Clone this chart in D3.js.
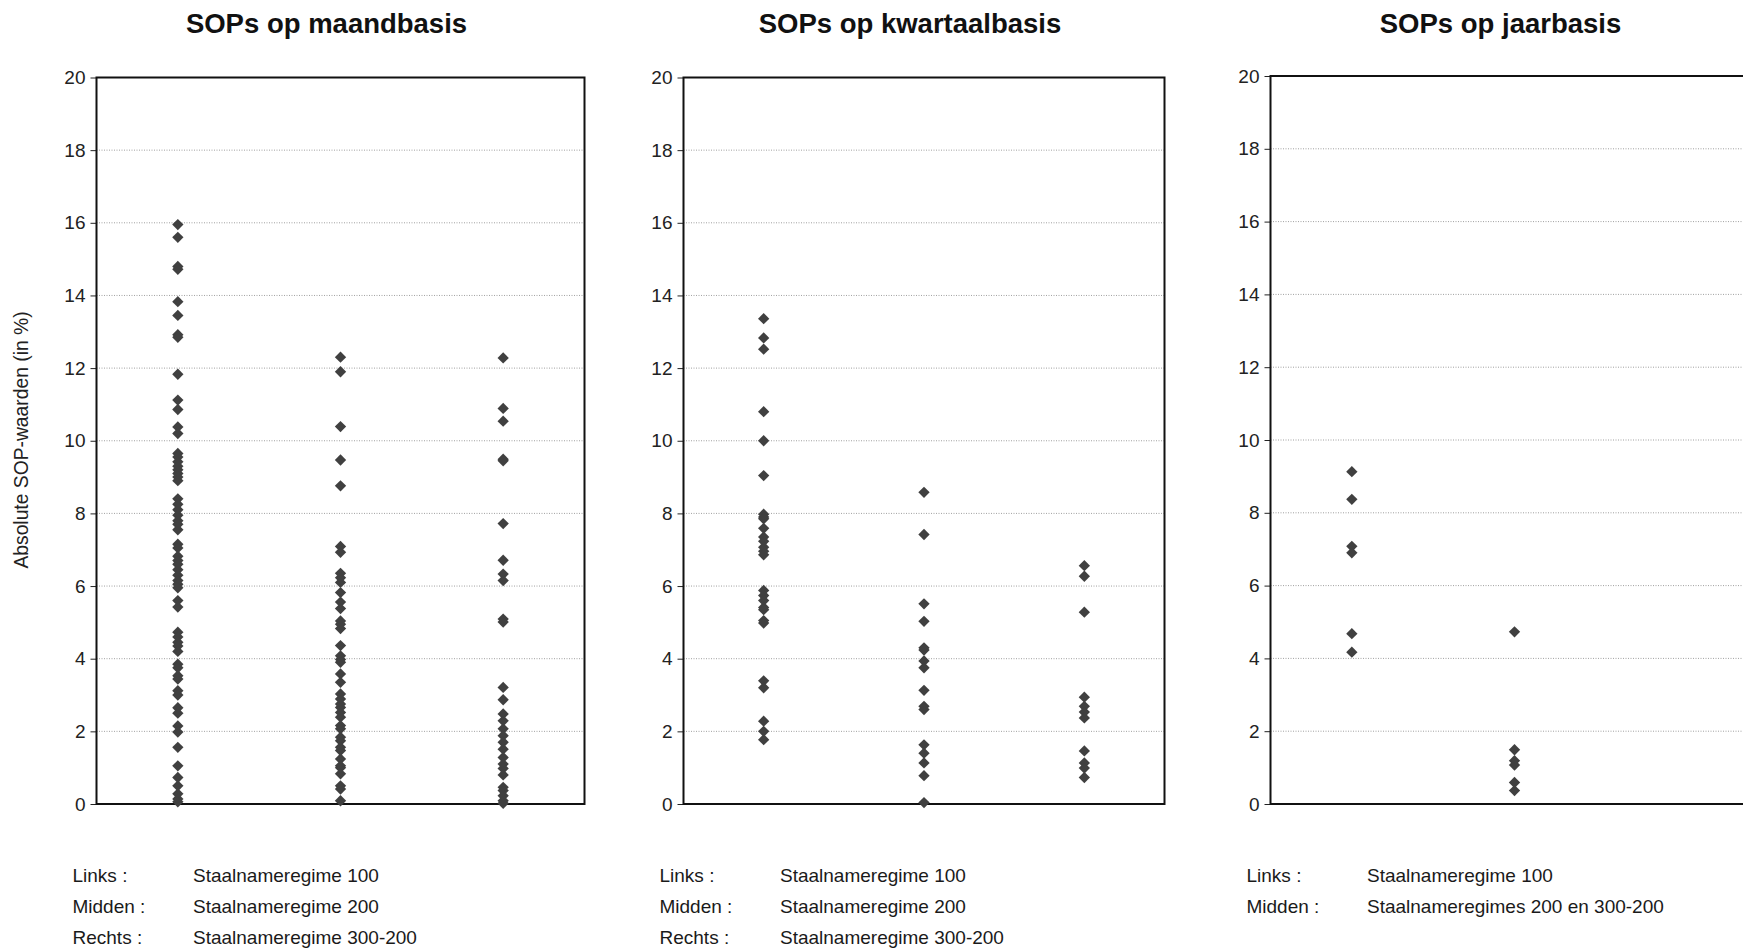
<!DOCTYPE html>
<html lang="nl">
<head>
<meta charset="utf-8">
<script src="https://cdn.jsdelivr.net/npm/d3@7/dist/d3.min.js"></script>
<style>
  body { margin: 0; background: #fff; }
  svg { display: block; font-family: "Liberation Sans", Arial, sans-serif; }
</style>
</head>
<body>
<div id="vis"></div>
<script>

// categories (x positions inside a panel)
var positions = ["Links", "Midden", "Rechts"];
var yTicks = [0, 2, 4, 6, 8, 10, 12, 14, 16, 18, 20];

// SOPs op maandbasis
var maand_100 = [15.95, 15.6, 14.8, 14.72, 13.83, 13.45, 12.92, 12.85, 11.83, 11.12, 10.86, 10.38, 10.2,
  9.65, 9.55, 9.42, 9.3, 9.2, 9.1, 9.0, 8.9, 8.4, 8.25, 8.1, 7.95, 7.8, 7.7, 7.55, 7.15, 7.05,
  6.82, 6.7, 6.6, 6.45, 6.3, 6.15, 6.05, 5.95, 5.6, 5.42, 4.73, 4.6, 4.45, 4.35, 4.2, 3.85, 3.75,
  3.53, 3.44, 3.12, 3.0, 2.65, 2.5, 2.15, 1.98, 1.56, 1.05, 0.73, 0.5, 0.28, 0.14, 0.06];
var maand_200 = [12.3, 11.9, 10.39, 9.47, 8.76, 7.09, 6.93, 6.35, 6.23, 6.1, 5.82, 5.56, 5.38, 5.04,
  4.95, 4.83, 4.36, 4.08, 3.98, 3.9, 3.58, 3.35, 3.03, 2.89, 2.75, 2.66, 2.52, 2.39, 2.16, 2.07,
  1.84, 1.74, 1.56, 1.47, 1.24, 1.05, 1.0, 0.83, 0.5, 0.41, 0.09];
var maand_300 = [12.28, 10.89, 10.54, 9.49, 9.45, 7.72, 6.71, 6.33, 6.15, 5.09, 5.01, 3.21, 2.87,
  2.48, 2.29, 2.07, 1.88, 1.7, 1.51, 1.28, 1.1, 0.98, 0.8, 0.46, 0.37, 0.23, 0.09, 0.02];

// SOPs op kwartaalbasis
var kwartaal_100 = [13.36, 12.83, 12.52, 10.8, 10.0, 9.04, 7.98, 7.9, 7.85, 7.59, 7.35, 7.23, 7.07,
  6.96, 6.86, 5.88, 5.74, 5.6, 5.41, 5.35, 5.05, 4.98, 3.39, 3.2, 2.28, 2.0, 1.77];
var kwartaal_200 = [8.58, 7.42, 5.51, 5.03, 4.3, 4.24, 3.94, 3.75, 3.13, 2.69, 2.6, 1.63, 1.4, 1.13, 0.78, 0.04];
var kwartaal_300 = [6.56, 6.27, 5.28, 2.94, 2.69, 2.53, 2.37, 1.46, 1.13, 0.99, 0.73];

// SOPs op jaarbasis
var jaar_100 = [9.13, 8.37, 7.08, 6.9, 4.68, 4.17];
var jaar_200 = [4.73, 1.49, 1.19, 1.07, 0.59, 0.37];

var titles = ["SOPs op maandbasis", "SOPs op kwartaalbasis", "SOPs op jaarbasis"];
var legendKeys = [["Links :", "Midden :", "Rechts :"], ["Links :", "Midden :", "Rechts :"], ["Links :", "Midden :"]];
var legendTexts = [
  ["Staalnameregime 100", "Staalnameregime 200", "Staalnameregime 300-200"],
  ["Staalnameregime 100", "Staalnameregime 200", "Staalnameregime 300-200"],
  ["Staalnameregime 100", "Staalnameregimes 200 en 300-200"]
];
var panelSeries = [
  [maand_100, maand_200, maand_300],
  [kwartaal_100, kwartaal_200, kwartaal_300],
  [jaar_100, jaar_200]
];

var W = 1743, H = 949;
var svg = d3.select("#vis").append("svg")
    .attr("width", W)
    .attr("height", H);

// panel frames (left, top, width)
var panels = [
  {left: 96.5, top: 77.5, width: 488},
  {left: 683.5, top: 77.5, width: 481},
  {left: 1270.5, top: 76, width: 488}
];
var bottom = 804;

var diamond = d3.symbol().type(d3.symbolSquare).size(64);

panels.forEach(function(p, k) {
  var g = svg.append("g").attr("transform", `translate(${p.left},${p.top})`);
  var h = bottom - p.top;

  var x = d3.scalePoint().domain(positions).range([0, p.width]).padding(0.5);
  var y = d3.scaleLinear().domain([0, 20]).range([h, 0]);

  // gridlines
  g.selectAll(".grid")
    .data(yTicks.filter(function(d){ return d > 0 && d < 20; }))
    .enter()
    .append("line")
    .attr("x1", 0).attr("x2", p.width)
    .attr("y1", function(d){ return y(d); })
    .attr("y2", function(d){ return y(d); })
    .attr("stroke", "#a0a0a0")
    .attr("stroke-width", 1)
    .attr("stroke-dasharray", "1,1.5");

  // y axis
  var axis = g.append("g")
    .call(d3.axisLeft(y).tickValues(yTicks).tickSize(6).tickPadding(5));
  axis.select(".domain").remove();
  axis.selectAll("line").attr("stroke", "#222");
  axis.selectAll("text")
    .attr("font-size", "19px")
    .attr("fill", "#222")
    .attr("font-family", "Liberation Sans, Arial, sans-serif");

  // frame
  g.append("rect")
    .attr("x", 0).attr("y", 0)
    .attr("width", p.width).attr("height", h)
    .attr("fill", "none")
    .attr("stroke", "#111")
    .attr("stroke-width", 2);

  // points
  panelSeries[k].forEach(function(vals, j) {
    g.selectAll(".pt" + j)
      .data(vals)
      .enter()
      .append("path")
      .attr("d", diamond)
      .attr("transform", function(d){ return `translate(${x(positions[j])},${y(d)}) rotate(45)`; })
      .attr("fill", "#404040");
  });

  // title
  svg.append("text")
    .attr("x", p.left + p.width / 2 - 14)
    .attr("y", 33)
    .attr("text-anchor", "middle")
    .attr("font-size", "27.5px")
    .attr("font-weight", "bold")
    .attr("fill", "#111")
    .text(titles[k]);

  // legend under the panel
  legendKeys[k].forEach(function(key, i) {
    svg.append("text")
      .attr("x", p.left - 24)
      .attr("y", 882 + i * 31)
      .attr("font-size", "19px")
      .attr("fill", "#1a1a1a")
      .text(key);
    svg.append("text")
      .attr("x", p.left + 96.5)
      .attr("y", 882 + i * 31)
      .attr("font-size", "19px")
      .attr("fill", "#1a1a1a")
      .text(legendTexts[k][i]);
  });
});

// y axis title
svg.append("text")
  .attr("transform", `translate(28,440) rotate(-90)`)
  .attr("text-anchor", "middle")
  .attr("font-size", "19.3px")
  .attr("fill", "#222")
  .text("Absolute SOP-waarden (in %)");

</script>
</body>
</html>
